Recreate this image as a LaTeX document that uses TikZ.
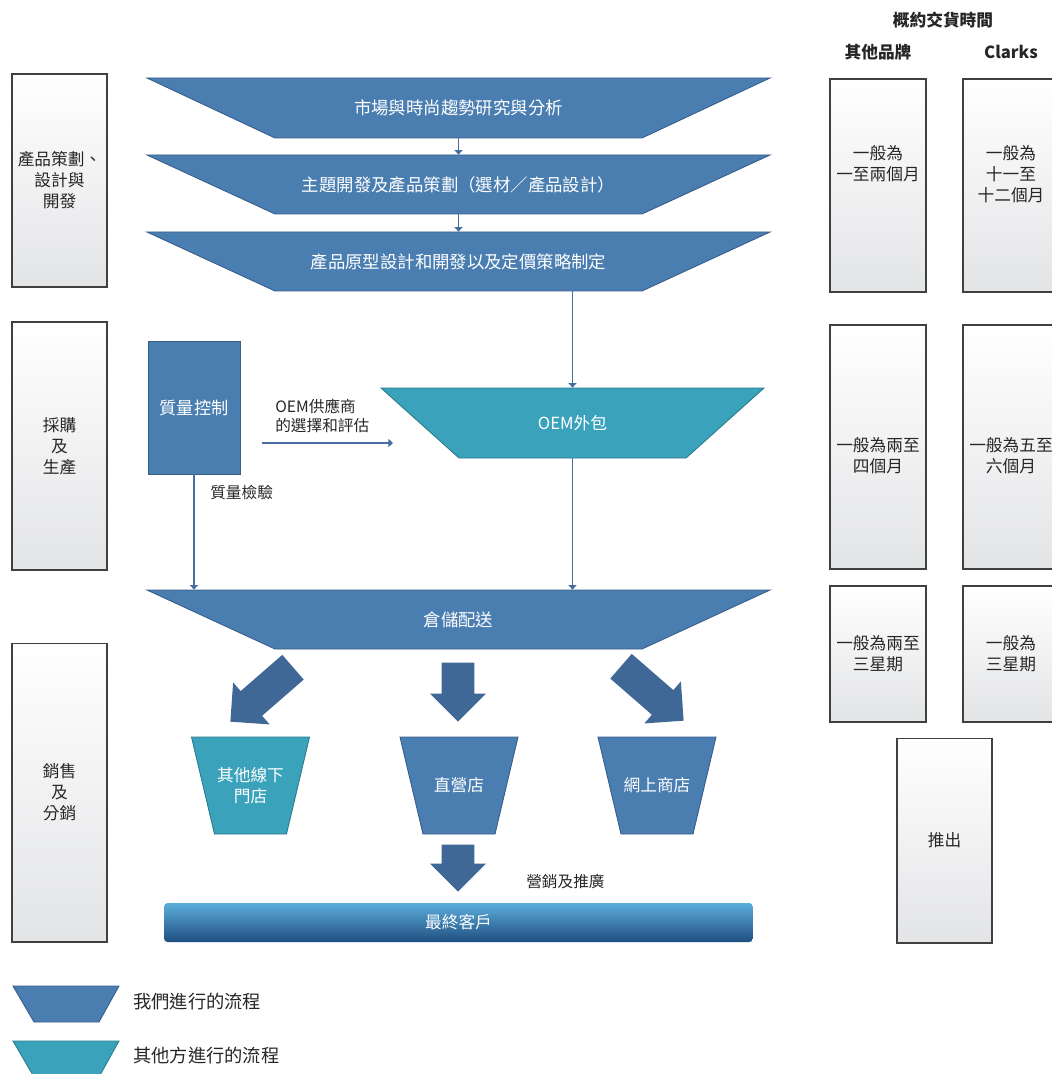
\documentclass[tikz,border=0pt]{standalone}
\usepackage{fontspec}
\setmainfont{Noto Sans CJK TC}
\usetikzlibrary{positioning,shapes.arrows,arrows.meta}

\definecolor{ourblue}{RGB}{74,126,177}
\definecolor{ouredge}{RGB}{56,93,138}
\definecolor{othteal}{RGB}{59,162,187}
\definecolor{othedge}{RGB}{42,122,142}
\definecolor{fatblue}{RGB}{64,104,150}
\definecolor{linkblue}{RGB}{70,110,160}
\definecolor{boxedge}{RGB}{64,64,64}
\definecolor{boxbot}{RGB}{227,228,230}
\definecolor{bartop}{RGB}{92,174,220}
\definecolor{barbot}{RGB}{30,78,128}
\definecolor{txt}{RGB}{38,38,38}

\tikzset{
  ourstage/.style={fill=ourblue, draw=ouredge, line width=0.5pt},
  othstage/.style={fill=othteal, draw=othedge, line width=0.5pt},
  stagetext/.style={rectangle, inner sep=0pt, text=white, align=center},
  chevtext/.style={stagetext, minimum width=12.46cm, minimum height=1.2cm,
    font=\fontsize{9.9}{12}\selectfont},
  storetext/.style={stagetext, minimum width=2.36cm, minimum height=1.94cm},
  gbox/.style={rectangle, draw=boxedge, line width=0.6pt, top color=white,
    bottom color=boxbot, minimum width=1.9cm, align=center, inner sep=0pt},
  fat/.style={single arrow, single arrow head extend=0.23cm, minimum width=1.1cm,
    inner xsep=0pt, inner ysep=0.32cm, fill=fatblue, draw=none, anchor=tip},
  link/.style={draw=linkblue, line width=0.8pt, -{Triangle[length=2.6pt,width=4.6pt]}},
  lab/.style={anchor=west, align=left, inner sep=0pt, font=\fontsize{8.9}{11}\selectfont},
  head/.style={font=\fontsize{9.5}{12}\selectfont\bfseries}
}

\begin{document}
\begin{tikzpicture}[x=0.02cm, y=-0.02cm, font=\fontsize{9.5}{12}\selectfont, text=txt]
  \useasboundingbox (0,0) rectangle (1051,1074);

  % stages on the left
  \node[gbox, minimum height=4.26cm] (plan) at (59.5,180.5) {產品策劃、\\設計與\\開發};
  \node[gbox, minimum height=4.96cm] (buy) at (59.5,446) {採購\\及\\生產};
  \node[gbox, minimum height=5.98cm] (sell) at (59.5,792.5) {銷售\\及\\分銷};

  % design chain
  \filldraw[ourstage] (147,78) -- (770,78) -- (642,138) -- (275,138) -- cycle;
  \node[chevtext] (market) at (458.5,108) {市場與時尚趨勢研究與分析};
  \filldraw[ourstage] (147,155) -- (770,155) -- (642,214) -- (275,214) -- cycle;
  \node[chevtext, minimum height=1.18cm] (theme) at (458.5,184.5) {主題開發及產品策劃（選材／產品設計）};
  \filldraw[ourstage] (147,232) -- (770,232) -- (642,291) -- (275,291) -- cycle;
  \node[chevtext, minimum height=1.18cm] (proto) at (458.5,261.5) {產品原型設計和開發以及定價策略制定};
  \draw[link] (market.south) -- (theme.north);
  \draw[link] (theme.south) -- (proto.north);

  % production
  \node[rectangle, fill=ourblue, draw=ouredge, line width=0.5pt, text=white,
    minimum width=1.84cm, minimum height=2.66cm, font=\fontsize{9.8}{12}\selectfont] (qc) at (194,407.5) {質量控制};
  \filldraw[othstage] (381,388) -- (764,388) -- (686,458) -- (459,458) -- cycle;
  \node[stagetext, minimum width=7.66cm, minimum height=1.4cm] (oem) at (572.5,423) {OEM外包};
  \filldraw[ourstage] (147,590) -- (770,590) -- (642,649) -- (275,649) -- cycle;
  \node[chevtext, minimum height=1.18cm] (ware) at (458.5,619.5) {倉儲配送};
  \draw[link] (oem.north |- proto.south) -- (oem.north);
  \draw[link] (oem.south) -- (oem.south |- ware.north);
  \draw[link] (qc.south) -- (qc.south |- ware.north);
  \node[lab] (qclab) at (210,493) {質量檢驗};
  \coordinate (selA) at (262,443);
  \coordinate (selB) at (393,443);
  \draw[link] (selA) -- (selB);
  \node[lab] (sellab) at (275,416) {OEM供應商\\的選擇和評估};

  % distribution
  \node[fat, minimum height=1.66cm, rotate=221] (toOff) at (230,722) {};
  \node[fat, minimum height=1.18cm, rotate=-90] (toDir) at (458,722) {};
  \node[fat, minimum height=1.66cm, rotate=-41] (toOn) at (684,721) {};
  \filldraw[othstage] (191.5,737) -- (309.5,737) -- (286.5,834) -- (214.5,834) -- cycle;
  \node[storetext] (offline) at (250.5,785.5) {其他線下\\門店};
  \filldraw[ourstage] (400,737) -- (518,737) -- (495,834) -- (423,834) -- cycle;
  \node[storetext] (direct) at (459,785.5) {直營店};
  \filldraw[ourstage] (598,737) -- (716,737) -- (693,834) -- (621,834) -- cycle;
  \node[storetext] (online) at (657,785.5) {網上商店};
  \node[fat, minimum height=0.94cm, rotate=-90] (toCust) at (458,892) {};
  \node[lab] (promo) at (526,882) {營銷及推廣};
  \node[rectangle, rounded corners=2pt, top color=bartop, bottom color=barbot,
    minimum width=11.78cm, minimum height=0.78cm, text=white] (cust) at (458.5,922.5) {最終客戶};

  % lead times
  \node[head] (lead) at (943,20) {概約交貨時間};
  \node[head] (othhead) at (878,52) {其他品牌};
  \node[head] (clkhead) at (1011,52) {Clarks};
  \node[gbox, minimum width=1.92cm, minimum height=4.26cm] (o1) at (878,185.5) {};
  \node[align=center] (o1t) at (878,163.5) {一般為\\一至兩個月};
  \node[gbox, minimum width=1.92cm, minimum height=4.26cm] (c1) at (1011,185.5) {};
  \node[align=center] (c1t) at (1011,174) {一般為\\十一至\\十二個月};
  \node[gbox, minimum width=1.92cm, minimum height=4.88cm] (o2) at (878,447) {};
  \node[align=center] (o2t) at (878,456) {一般為兩至\\四個月};
  \node[gbox, minimum width=1.92cm, minimum height=4.88cm] (c2) at (1011,447) {};
  \node[align=center] (c2t) at (1011,456) {一般為五至\\六個月};
  \node[gbox, minimum width=1.92cm, minimum height=2.72cm] (o3) at (878,654) {一般為兩至\\三星期};
  \node[gbox, minimum width=1.92cm, minimum height=2.72cm] (c3) at (1011,654) {一般為\\三星期};
  \node[gbox, minimum width=1.9cm, minimum height=4.1cm] (launch) at (944.5,840.5) {推出};

  % key
  \filldraw[ourstage] (13,986) -- (119,986) -- (99,1022) -- (34,1022) -- cycle;
  \node[lab, font=\fontsize{10.4}{12}\selectfont] (keyustxt) at (133,1002) {我們進行的流程};
  \filldraw[othstage] (13,1041) -- (119,1041) -- (99,1077) -- (34,1077) -- cycle;
  \node[lab, font=\fontsize{10.4}{12}\selectfont] (keyothtxt) at (133,1056) {其他方進行的流程};
\end{tikzpicture}
\end{document}
